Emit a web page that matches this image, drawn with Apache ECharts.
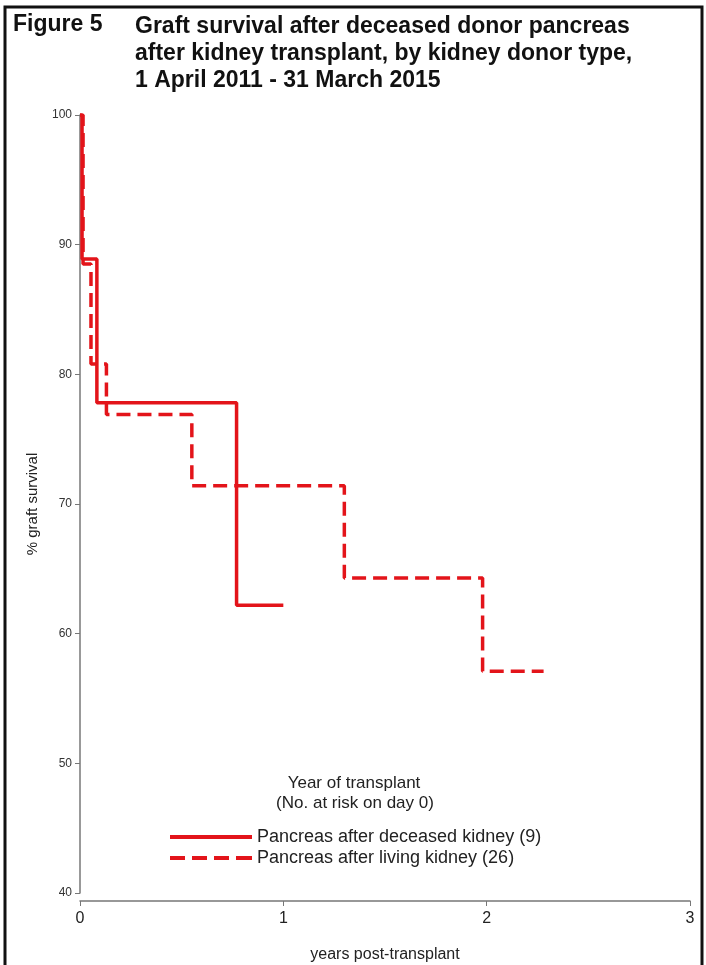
<!DOCTYPE html>
<html>
<head>
<meta charset="utf-8">
<script src="https://cdn.jsdelivr.net/npm/echarts@6/dist/echarts.min.js"></script>
<style>
  html, body { margin: 0; padding: 0; background: #fff; }
  #chart { width: 706px; height: 965px; }
</style>
</head>
<body>
<div id="chart"></div>
<script>
// step points: [years post-transplant, % graft survival]
const deceasedTimes = [0, 0.01, 0.083, 0.77, 1.0]
const deceasedSurv = [100, 88.9, 77.8, 62.2, 62.2]
const livingTimes = [0, 0.015, 0.054, 0.13, 0.55, 1.30, 1.98, 2.28]
const livingSurv = [100, 88.5, 80.8, 76.9, 71.4, 64.3, 57.1, 57.1]
const seriesNames = ['Pancreas after deceased kidney (9)', 'Pancreas after living kidney (26)']
const xTicks = [0, 1, 2, 3]
const yTicks = [40, 50, 60, 70, 80, 90, 100]

const red = '#e3141a'
const font = '"Liberation Sans", Arial, sans-serif'

const chart = echarts.init(document.getElementById('chart'))
const pairs = (xs, ys) => xs.map((x, i) => [x, ys[i]])

// legend key shapes: a solid bar and a bar broken in four dashes
const solidIcon = 'path://M0,0h82v4h-82z'
const dashIcon = 'path://M0,0h15v4h-15z M22,0h15v4h-15z M44,0h15v4h-15z M66,0h16v4h-16z'

const option = {
  backgroundColor: '#fff',
  animation: false,
  textStyle: { fontFamily: font },
  graphic: [
    { type: 'rect', shape: { x: 5, y: 7, width: 697, height: 964 }, style: { fill: 'none', stroke: '#111', lineWidth: 3 } },
    { type: 'text', left: 13, top: 13, style: { text: 'Figure 5', font: 'bold 23px ' + font, fill: '#111' } },
    { type: 'text', left: 135, top: 13, style: { text: 'Graft survival after deceased donor pancreas\nafter kidney transplant, by kidney donor type,\n1 April 2011 - 31 March 2015', font: 'bold 23px ' + font, fill: '#111', lineHeight: 27 } },
    { type: 'text', x: 354, y: 783, style: { text: 'Year of transplant', font: '17px ' + font, fill: '#222', align: 'center', verticalAlign: 'middle' } },
    { type: 'text', x: 355, y: 803, style: { text: '(No. at risk on day 0)', font: '17px ' + font, fill: '#222', align: 'center', verticalAlign: 'middle' } }
  ],
  legend: {
    orient: 'vertical',
    left: 165,
    top: 823,
    itemWidth: 82,
    itemHeight: 4,
    itemGap: 3,
    textStyle: { fontSize: 18, color: '#222', fontFamily: font },
    data: [
      { name: seriesNames[0], icon: solidIcon },
      { name: seriesNames[1], icon: dashIcon }
    ]
  },
  grid: { left: 80, right: 16, top: 115, bottom: 72, outerBoundsMode: 'none' },
  xAxis: {
    type: 'value',
    min: xTicks[0],
    max: xTicks[xTicks.length - 1],
    interval: 1,
    offset: 8,
    name: 'years post-transplant',
    nameLocation: 'middle',
    nameGap: 46,
    nameTextStyle: { fontSize: 16, color: '#222' },
    axisLine: { lineStyle: { color: '#777', width: 1.5 } },
    axisTick: { length: 5, lineStyle: { color: '#777' } },
    axisLabel: { fontSize: 16, color: '#222', margin: 10 },
    splitLine: { show: false }
  },
  yAxis: {
    type: 'value',
    min: yTicks[0],
    max: yTicks[yTicks.length - 1],
    interval: 10,
    name: '% graft survival',
    nameLocation: 'middle',
    nameGap: 40,
    nameTextStyle: { fontSize: 15, color: '#222' },
    axisLine: { show: true, lineStyle: { color: '#777', width: 1.5 } },
    axisTick: { show: true, length: 5, lineStyle: { color: '#777' } },
    axisLabel: { fontSize: 12, color: '#333', margin: 8 },
    splitLine: { show: false }
  },
  series: [
    {
      name: seriesNames[0],
      type: 'line',
      step: 'end',
      symbol: 'none',
      itemStyle: { color: red },
      lineStyle: { color: red, width: 3.5 },
      data: pairs(deceasedTimes, deceasedSurv)
    },
    {
      name: seriesNames[1],
      type: 'line',
      step: 'end',
      symbol: 'none',
      itemStyle: { color: red },
      lineStyle: { color: red, width: 3.5, type: [14, 7] },
      data: pairs(livingTimes, livingSurv)
    }
  ]
}

chart.setOption(option)
</script>
</body>
</html>
